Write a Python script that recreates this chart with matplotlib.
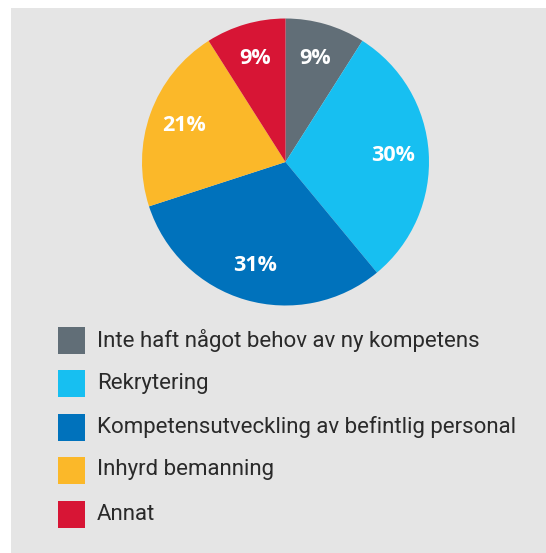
import matplotlib
matplotlib.use("Agg")
import matplotlib.pyplot as plt
from matplotlib.patches import Rectangle

categories = ["Inte haft något behov av ny kompetens", "Rekrytering",
              "Kompetensutveckling av befintlig personal", "Inhyrd bemanning", "Annat"]
values = [9, 30, 31, 21, 9]
colors = ["#616e77", "#17bff1", "#0072bc", "#fbb829", "#d71535"]

W, H = 546, 553
fig = plt.figure(figsize=(W / 100, H / 100), dpi=100)
fig.patch.set_facecolor("white")
fig.patches.append(Rectangle((11 / W, 0), 1 - 11 / W, 1 - 8 / H, transform=fig.transFigure,
                             facecolor="#e5e5e5", edgecolor="none", zorder=-10))

cx, cy, r = 285.5, 162, 143.5
ax = fig.add_axes([(cx - r) / W, (H - cy - r) / H, 2 * r / W, 2 * r / H])
ax.set_zorder(5)
ax.set_facecolor("none")
wedges, texts, autotexts = ax.pie(values, colors=colors, startangle=90, counterclock=False,
                                  autopct=lambda p: f"{p:.0f}%", pctdistance=0.75,
                                  wedgeprops=dict(linewidth=0),
                                  textprops=dict(color="white", fontsize=15.5, fontweight="bold",
                                                 family="Open Sans"))
ax.set_xlim(-1, 1)
ax.set_ylim(-1, 1)
ax.set_aspect("equal")
ax.axis("off")

row_y = [340, 383, 427, 470, 514]
for yy, lab, col in zip(row_y, categories, colors):
    fig.patches.append(Rectangle((58 / W, 1 - (yy + 13.5) / H), 27 / W, 27 / H,
                                 transform=fig.transFigure, facecolor=col,
                                 edgecolor="none", zorder=2))
    fig.text(97 / W, 1 - yy / H, lab, ha="left", va="center", fontsize=16,
             family="Roboto", color="#2a2a2a")

fig.savefig("out.png", dpi=100)
